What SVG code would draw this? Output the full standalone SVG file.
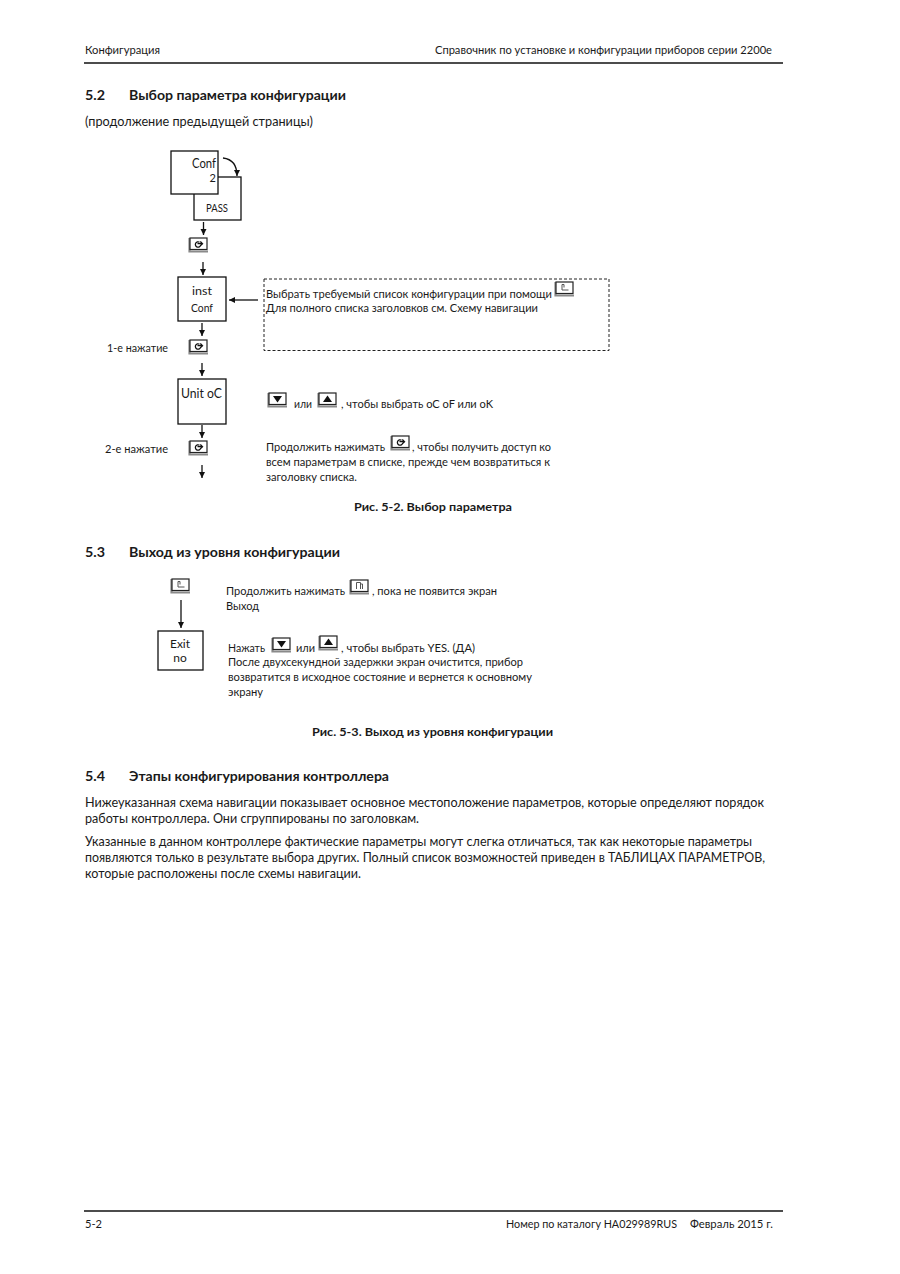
<svg xmlns="http://www.w3.org/2000/svg" xmlns:xlink="http://www.w3.org/1999/xlink" width="900" height="1274" viewBox="0 0 900 1274">
<style>
text{font-family:"Lato","Liberation Sans",sans-serif;fill:#1a1a1a;font-size:11px}
.b{font-weight:700;font-size:13px}
.c{font-weight:700;font-size:12px}
.p{font-size:12.5px}
.n{font-size:12px;text-anchor:middle}
.box{fill:#fff;stroke:#111;stroke-width:1.3}
.ln{fill:none;stroke:#111;stroke-width:1.3}
</style>
<defs>
<marker id="a" markerWidth="8" markerHeight="8" refX="6" refY="3" orient="auto" markerUnits="userSpaceOnUse"><path d="M0 0L6 3L0 6Z" fill="#111"/></marker>
<g id="frame"><path d="M1.500 1V14.500H20" fill="none" stroke="#8a8a8a" stroke-width="2.200"/><rect x="2" y="1" width="17" height="11.500" fill="#fff" stroke="#222" stroke-width="1.200"/></g>
<g id="scroll"><use xlink:href="#frame"/><path d="M11.500 5.200a2.700 2.700 0 1 0 1.200 3M9.500 6.700h4.500M12.300 4.500l2.200 2.200-2.200 2" fill="none" stroke="#111" stroke-width="1.300"/></g>
<g id="page"><use xlink:href="#frame"/><path d="M8 3.500V9H14.500M8 3.500H10V6.500" fill="none" stroke="#555" stroke-width="1"/></g>
<g id="page2"><use xlink:href="#frame"/><path d="M7.500 10V3.500H11.500V10M11.500 5H13.500V10" fill="none" stroke="#555" stroke-width="1"/></g>
<g id="down"><use xlink:href="#frame"/><path d="M6 4H15L10.500 10.500Z" fill="#111"/></g>
<g id="up"><use xlink:href="#frame"/><path d="M6 10H15L10.500 3.500Z" fill="#111"/></g>
</defs>
<g id="page-header">
<text x="85" y="54" textLength="75" lengthAdjust="spacingAndGlyphs">Конфигурация</text>
<text x="435" y="54" textLength="337" lengthAdjust="spacingAndGlyphs">Справочник по установке и конфигурации приборов серии 2200e</text>
<path d="M84 63H783" stroke="#111" stroke-width="1.4"/>
</g>
<g id="section-5-2">
<text class="b" x="85" y="100" textLength="20" lengthAdjust="spacingAndGlyphs">5.2</text>
<text class="b" x="129" y="100" textLength="217" lengthAdjust="spacingAndGlyphs">Выбор параметра конфигурации</text>
<text x="85" y="126" style="font-size:12.500px" textLength="228" lengthAdjust="spacingAndGlyphs">(продолжение предыдущей страницы)</text>
</g>
<g id="connectors">
<path class="ln" d="M203.500 222V235" marker-end="url(#a)"/>
<path class="ln" d="M203 262V275" marker-end="url(#a)"/>
<path class="ln" d="M202 323V336" marker-end="url(#a)"/>
<path class="ln" d="M202 363V376" marker-end="url(#a)"/>
<path class="ln" d="M202 425V438" marker-end="url(#a)"/>
<path class="ln" d="M202 465V478" marker-end="url(#a)"/>
<path class="ln" d="M258 300H229" marker-end="url(#a)"/>
<path class="ln" d="M181 600V628" marker-end="url(#a)"/>
<path class="ln" d="M223 158C232 159 237 165 237 176" stroke-width="1.500" marker-end="url(#a)"/>
</g>
<g id="node-pass"><rect class="box" x="194" y="177" width="47" height="43"/><text x="217" y="212" text-anchor="middle" style="font-size:10.500px" textLength="22" lengthAdjust="spacingAndGlyphs">PASS</text></g>
<g id="node-conf"><rect class="box" x="171" y="151" width="47" height="43"/><text x="192" y="168" style="font-size:12.500px" textLength="24" lengthAdjust="spacingAndGlyphs">Conf</text><text x="216" y="182" text-anchor="end" style="font-size:11px">2</text></g>
<g id="node-inst"><rect class="box" x="178" y="277" width="48" height="44"/><text x="192" y="295" style="font-size:12px" textLength="20" lengthAdjust="spacingAndGlyphs">inst</text><text x="191" y="312" style="font-size:11px" textLength="22" lengthAdjust="spacingAndGlyphs">Conf</text></g>
<g id="node-unit"><rect class="box" x="178" y="379" width="48" height="45"/><text x="181" y="398" style="font-size:12.500px" textLength="41" lengthAdjust="spacingAndGlyphs">Unit oC</text></g>
<g id="node-exit"><rect class="box" x="158" y="631" width="45" height="39"/><text class="n" x="180" y="648">Exit</text><text class="n" x="180" y="662">no</text></g>
<g id="keys">
<use xlink:href="#scroll" x="188" y="237"/>
<use xlink:href="#scroll" x="188" y="339"/>
<use xlink:href="#scroll" x="188" y="440"/>
<use xlink:href="#page" x="554" y="281"/>
<use xlink:href="#down" x="267" y="392"/>
<use xlink:href="#up" x="317" y="392"/>
<use xlink:href="#scroll" x="390" y="435"/>
<use xlink:href="#page" x="170" y="578"/>
<use xlink:href="#page2" x="349" y="579"/>
<use xlink:href="#down" x="271" y="637"/>
<use xlink:href="#up" x="318" y="635"/>
</g>
<g id="note-list">
<rect x="264" y="279" width="345" height="71.500" fill="none" stroke="#222" stroke-dasharray="3 2"/>
<text x="266" y="298" textLength="286" lengthAdjust="spacingAndGlyphs">Выбрать требуемый список конфигурации при помощи</text>
<text x="266" y="312" textLength="272" lengthAdjust="spacingAndGlyphs">Для полного списка заголовков см. Схему навигации</text>
</g>
<g id="labels-5-2">
<text x="107" y="352" textLength="61" lengthAdjust="spacingAndGlyphs">1-е нажатие</text>
<text x="105" y="453" textLength="63" lengthAdjust="spacingAndGlyphs">2-е нажатие</text>
<text x="294" y="408" textLength="18" lengthAdjust="spacingAndGlyphs">или</text>
<text x="341" y="408" textLength="152" lengthAdjust="spacingAndGlyphs">, чтобы выбрать oC oF или oK</text>
<text x="266" y="451" textLength="119" lengthAdjust="spacingAndGlyphs">Продолжить нажимать</text>
<text x="412" y="451" textLength="139" lengthAdjust="spacingAndGlyphs">, чтобы получить доступ ко</text>
<text x="266" y="466" textLength="284" lengthAdjust="spacingAndGlyphs">всем параметрам в списке, прежде чем возвратиться к</text>
<text x="266" y="481" textLength="91" lengthAdjust="spacingAndGlyphs">заголовку списка.</text>
<text class="c" x="354" y="511" textLength="158" lengthAdjust="spacingAndGlyphs">Рис. 5-2. Выбор параметра</text>
</g>
<g id="section-5-3">
<text class="b" x="85" y="557" textLength="20" lengthAdjust="spacingAndGlyphs">5.3</text>
<text class="b" x="129" y="557" textLength="211" lengthAdjust="spacingAndGlyphs">Выход из уровня конфигурации</text>
<text x="226" y="595" textLength="119" lengthAdjust="spacingAndGlyphs">Продолжить нажимать</text>
<text x="372" y="595" textLength="125" lengthAdjust="spacingAndGlyphs">, пока не появится экран</text>
<text x="226" y="610" textLength="33" lengthAdjust="spacingAndGlyphs">Выход</text>
<text x="228" y="652" textLength="37" lengthAdjust="spacingAndGlyphs">Нажать</text>
<text x="296" y="652" textLength="19" lengthAdjust="spacingAndGlyphs">или</text>
<text x="341" y="652" textLength="134" lengthAdjust="spacingAndGlyphs">, чтобы выбрать YES. (ДА)</text>
<text x="228" y="666" textLength="295" lengthAdjust="spacingAndGlyphs">После двухсекундной задержки экран очистится, прибор</text>
<text x="228" y="681" textLength="304" lengthAdjust="spacingAndGlyphs">возвратится в исходное состояние и вернется к основному</text>
<text x="228" y="696" textLength="35" lengthAdjust="spacingAndGlyphs">экрану</text>
<text class="c" x="312" y="736" textLength="241" lengthAdjust="spacingAndGlyphs">Рис. 5-3. Выход из уровня конфигурации</text>
</g>
<g id="section-5-4">
<text class="b" x="85" y="781" textLength="20" lengthAdjust="spacingAndGlyphs">5.4</text>
<text class="b" x="129" y="781" textLength="260" lengthAdjust="spacingAndGlyphs">Этапы конфигурирования контроллера</text>
<text class="p" x="85" y="807" textLength="679" lengthAdjust="spacingAndGlyphs">Нижеуказанная схема навигации показывает основное местоположение параметров, которые определяют порядок</text>
<text class="p" x="85" y="823" textLength="334" lengthAdjust="spacingAndGlyphs">работы контроллера. Они сгруппированы по заголовкам.</text>
<text class="p" x="85" y="846" textLength="667" lengthAdjust="spacingAndGlyphs">Указанные в данном контроллере фактические параметры могут слегка отличаться, так как некоторые параметры</text>
<text class="p" x="85" y="862" textLength="680" lengthAdjust="spacingAndGlyphs">появляются только в результате выбора других. Полный список возможностей приведен в ТАБЛИЦАХ ПАРАМЕТРОВ,</text>
<text class="p" x="85" y="878" textLength="276" lengthAdjust="spacingAndGlyphs">которые расположены после схемы навигации.</text>
</g>
<g id="page-footer">
<path d="M84 1211H783" stroke="#111" stroke-width="1.4"/>
<text x="85" y="1228" textLength="17" lengthAdjust="spacingAndGlyphs">5-2</text>
<text x="506" y="1228" textLength="171" lengthAdjust="spacingAndGlyphs">Номер по каталогу HA029989RUS</text>
<text x="690" y="1228" textLength="83" lengthAdjust="spacingAndGlyphs">Февраль 2015 г.</text>
</g>
</svg>
